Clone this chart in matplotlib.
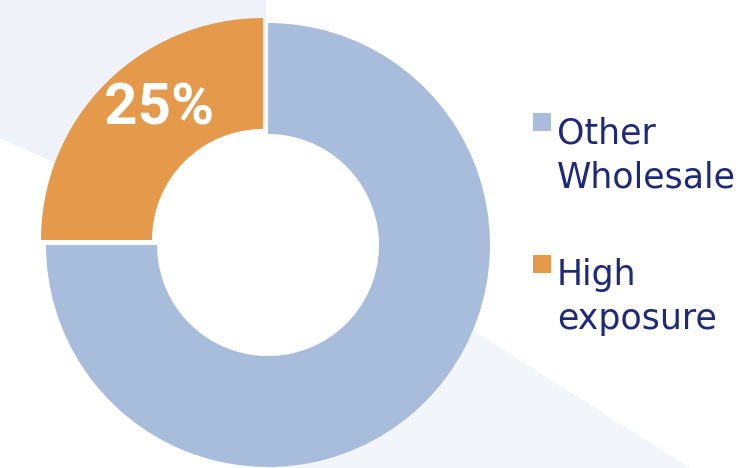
import matplotlib
matplotlib.use("Agg")
import matplotlib.pyplot as plt
from matplotlib.patches import Polygon, Rectangle

labels = ["Other\nWholesale", "High\nexposure"]
values = [75, 25]
colors = ["#a8bcdb", "#e5994b"]
pct_labels = ["", "25%"]

W, H = 739, 468
fig = plt.figure(figsize=(W / 100, H / 100), dpi=100)
ax = fig.add_axes([0, 0, 1, 1])

def yy(p):
    return H - p

# faint background decoration
bg = "#eff3f9"
ax.add_patch(Polygon([(0, yy(0)), (266, yy(0)), (266, yy(125)), (160, yy(130)),
                      (60, yy(165)), (0, yy(138))],
                     closed=True, facecolor=bg, edgecolor="none", zorder=0))
ax.add_patch(Polygon([(420, yy(300)), (480, yy(335)), (690, yy(468)), (268, yy(468)),
                      (268, yy(400))],
                     closed=True, facecolor="#f2f5fa", edgecolor="none", zorder=0))

cx, cy, R = 268, yy(245), 222
wedges, _ = ax.pie(values, colors=colors, startangle=90, counterclock=False,
                   center=(cx, cy), radius=R, explode=[0, 0.032 * R],
                   wedgeprops=dict(width=R * 0.5, edgecolor="none"),
                   frame=True)
ax.set_xlim(0, W)
ax.set_ylim(0, H)
ax.set_aspect("equal")
ax.axis("off")

ax.text(159, yy(109), pct_labels[1], color="white", fontsize=42, fontweight="bold",
        family="Roboto", ha="center", va="center", zorder=5)

# legend
lx_sq, lx_txt = 533, 557
rows = [(113, 143, labels[0], colors[0]), (255, 285, labels[1], colors[1])]
for sq_top, base, lab, col in rows:
    ax.add_patch(Rectangle((lx_sq, yy(sq_top + 18)), 18, 18, facecolor=col,
                           edgecolor="none", zorder=5))
    for i, line in enumerate(lab.split("\n")):
        ax.text(lx_txt, yy(base + 44 * i), line, color="#1d2a7c", fontsize=25,
                family="DejaVu Sans", ha="left", va="baseline", zorder=5)

fig.savefig("out.png", dpi=100)
